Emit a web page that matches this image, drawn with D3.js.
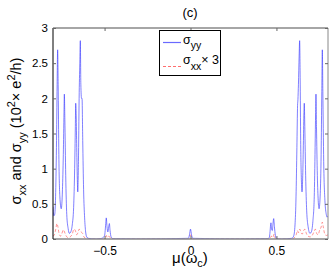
<!DOCTYPE html>
<html>
<head>
<meta charset="utf-8">
<script src="https://cdn.jsdelivr.net/npm/d3@7"></script>
<style>
  body { margin: 0; background: #fff; }
  text { font-family: "Liberation Sans", Arial, sans-serif; fill: #000; }
</style>
</head>
<body>
<svg id="chart"></svg>
<script>
const WIDTH = 332
const HEIGHT = 275

// sigma_yy
const muYY = [
    -0.800, -0.795, -0.790, -0.785, -0.780, -0.776, -0.773, -0.770, -0.766, -0.760,
    -0.752, -0.745, -0.740, -0.736, -0.734, -0.731, -0.726, -0.720, -0.712, -0.705,
    -0.697, -0.688, -0.680, -0.674, -0.670, -0.668, -0.665, -0.662, -0.658, -0.656,
    -0.652, -0.648, -0.644, -0.641, -0.638, -0.634, -0.631, -0.627, -0.622, -0.616,
    -0.610, -0.604, -0.595, -0.550, -0.515, -0.500, -0.493, -0.490, -0.486, -0.481,
    -0.476, -0.472, -0.468, -0.462, -0.450, -0.300, -0.012, -0.006, 0.000, 0.006,
    0.012, 0.300, 0.450, 0.458, 0.462, 0.466, 0.468, 0.472, 0.476, 0.480,
    0.484, 0.488, 0.494, 0.500, 0.520, 0.590, 0.600, 0.608, 0.614, 0.619,
    0.623, 0.625, 0.628, 0.632, 0.635, 0.638, 0.641, 0.645, 0.649, 0.653,
    0.657, 0.660, 0.662, 0.665, 0.670, 0.676, 0.684, 0.695, 0.703, 0.712,
    0.720, 0.725, 0.728, 0.730, 0.733, 0.738, 0.743, 0.748, 0.755, 0.760,
    0.764, 0.767, 0.770, 0.775, 0.782, 0.790, 0.795, 0.800
]
const sigmaYY = [
    0.46, 0.33, 0.35, 0.60, 1.30, 2.20, 2.69, 2.20, 1.20, 0.60,
    0.43, 0.70, 1.20, 1.80, 2.06, 1.70, 0.90, 0.35, 0.15, 0.08,
    0.10, 0.20, 0.45, 1.00, 1.60, 1.93, 1.75, 1.30, 0.80, 0.67,
    1.10, 2.00, 2.50, 2.82, 2.20, 2.00, 2.00, 1.40, 0.70, 0.30,
    0.10, 0.03, 0.01, 0.00, 0.01, 0.05, 0.22, 0.30, 0.18, 0.10,
    0.17, 0.22, 0.12, 0.03, 0.005, 0.00, 0.01, 0.06, 0.14, 0.06,
    0.01, 0.00, 0.005, 0.02, 0.08, 0.20, 0.23, 0.14, 0.12, 0.22,
    0.29, 0.18, 0.05, 0.01, 0.00, 0.01, 0.04, 0.20, 0.60, 1.30,
    1.90, 1.98, 2.20, 2.60, 2.82, 2.30, 1.40, 0.85, 0.67, 0.90,
    1.40, 1.80, 1.93, 1.60, 0.90, 0.40, 0.18, 0.08, 0.10, 0.25,
    0.60, 1.30, 1.80, 2.06, 1.60, 0.90, 0.55, 0.43, 0.65, 1.20,
    2.10, 2.69, 2.10, 1.10, 0.55, 0.35, 0.31, 0.33
]

// sigma_xx x 3
const muXX = [
    -0.800, -0.792, -0.784, -0.777, -0.772, -0.764, -0.756, -0.748, -0.740, -0.733,
    -0.725, -0.712, -0.700, -0.688, -0.678, -0.670, -0.662, -0.655, -0.648, -0.642,
    -0.636, -0.628, -0.620, -0.610, -0.590, -0.500, -0.490, -0.485, -0.475, -0.460,
    -0.010, 0.000, 0.010, 0.460, 0.470, 0.480, 0.486, 0.495, 0.590, 0.605,
    0.615, 0.622, 0.628, 0.636, 0.642, 0.650, 0.658, 0.666, 0.674, 0.684,
    0.696, 0.708, 0.718, 0.726, 0.734, 0.742, 0.752, 0.760, 0.767, 0.772,
    0.780, 0.790, 0.800
]
const sigmaXX3 = [
    0.04, 0.06, 0.14, 0.22, 0.18, 0.07, 0.04, 0.08, 0.13, 0.10,
    0.05, 0.02, 0.03, 0.07, 0.14, 0.12, 0.06, 0.09, 0.14, 0.12,
    0.10, 0.08, 0.03, 0.01, 0.00, 0.00, 0.05, 0.02, 0.04, 0.00,
    0.00, 0.06, 0.00, 0.00, 0.04, 0.02, 0.07, 0.00, 0.00, 0.02,
    0.06, 0.12, 0.09, 0.14, 0.10, 0.07, 0.12, 0.14, 0.08, 0.04,
    0.03, 0.05, 0.10, 0.14, 0.08, 0.06, 0.13, 0.17, 0.24, 0.18,
    0.08, 0.05, 0.06
]

const xTicks = [-0.5, 0, 0.5]
const yTicks = [0, 0.5, 1, 1.5, 2, 2.5, 3]

const svg = d3.select('#chart')
    .attr('width', WIDTH)
    .attr('height', HEIGHT)

const x = d3.scaleLinear().domain([-0.8, 0.8]).range([53, 328])
const y = d3.scaleLinear().domain([0, 3]).range([239, 28])

svg.append('clipPath')
    .attr('id', 'clip')
    .append('rect')
    .attr('x', 53).attr('y', 28)
    .attr('width', 275).attr('height', 211)

const line = d3.line()
    .x(d => x(d[0]))
    .y(d => y(d[1]))
    .curve(d3.curveMonotoneX)

const plot = svg.append('g').attr('clip-path', 'url(#clip)')

plot.append('path')
    .datum(muXX.map((m, i) => [m, sigmaXX3[i]]))
    .attr('d', line)
    .attr('fill', 'none')
    .attr('stroke', '#ff3030')
    .attr('stroke-width', 0.6)
    .attr('stroke-opacity', 0.85)
    .attr('stroke-dasharray', '3,2')

plot.append('path')
    .datum(muYY.map((m, i) => [m, sigmaYY[i]]))
    .attr('d', line)
    .attr('fill', 'none')
    .attr('stroke', '#3a3aff')
    .attr('stroke-width', 0.65)

// axes, matlab style: ticks inside on all four sides
const frame = svg.append('g')
frame.append('line').attr('x1', 53).attr('x2', 328).attr('y1', 28).attr('y2', 28)
    .attr('stroke', '#888').attr('stroke-width', 1.5)
frame.append('line').attr('x1', 53).attr('x2', 328).attr('y1', 239).attr('y2', 239)
    .attr('stroke', '#888').attr('stroke-width', 1.5)
frame.append('line').attr('x1', 328).attr('x2', 328).attr('y1', 28).attr('y2', 239)
    .attr('stroke', '#888').attr('stroke-width', 1)
frame.append('line').attr('x1', 53).attr('x2', 53).attr('y1', 28).attr('y2', 239)
    .attr('stroke', '#000').attr('stroke-width', 1)

const xAxis = svg.append('g')
    .attr('transform', 'translate(0,239)')
    .call(d3.axisBottom(x).tickValues(xTicks).tickSize(-3).tickPadding(7)
        .tickFormat(d => d === 0 ? '0' : d3.format('.1f')(d).replace('-', '\u2212')))
xAxis.select('.domain').remove()
xAxis.selectAll('.tick line').attr('stroke', '#666')
xAxis.selectAll('text').attr('font-size', 12).attr('font-family', '"Liberation Sans", Arial, sans-serif')

const xTop = svg.append('g')
    .attr('transform', 'translate(0,28)')
    .call(d3.axisTop(x).tickValues(xTicks).tickSize(-3).tickFormat(''))
xTop.select('.domain').remove()
xTop.selectAll('.tick line').attr('stroke', '#666')

const yAxis = svg.append('g')
    .attr('transform', 'translate(53,0)')
    .call(d3.axisLeft(y).tickValues(yTicks).tickSize(-3).tickPadding(5)
        .tickFormat(d => String(d)))
yAxis.select('.domain').remove()
yAxis.selectAll('.tick line').attr('stroke', '#666')
yAxis.selectAll('text').attr('font-size', 11.5).attr('font-family', '"Liberation Sans", Arial, sans-serif')

const yRight = svg.append('g')
    .attr('transform', 'translate(328,0)')
    .call(d3.axisRight(y).tickValues(yTicks).tickSize(-3).tickFormat(''))
yRight.select('.domain').remove()
yRight.selectAll('.tick line').attr('stroke', '#666')

// title
svg.append('text')
    .attr('x', 190).attr('y', 17)
    .attr('text-anchor', 'middle')
    .attr('font-size', 13)
    .text('(c)')

// x label
const xl = svg.append('text')
    .attr('x', 172).attr('y', 263)
    .attr('font-size', 15)
xl.append('tspan').text('\u03bc(\u03c9')
xl.append('tspan').attr('dy', 4).attr('font-size', 11).text('c')
xl.append('tspan').attr('dy', -4).text(')')

// y label
const yl = svg.append('text')
    .attr('transform', 'translate(21,131) rotate(-90)')
    .attr('text-anchor', 'middle')
    .attr('font-size', 14.5)
yl.append('tspan').text('\u03c3')
yl.append('tspan').attr('dy', 5).attr('font-size', 11).text('xx')
yl.append('tspan').attr('dy', -5).text(' and \u03c3')
yl.append('tspan').attr('dy', 5).attr('font-size', 11).text('yy')
yl.append('tspan').attr('dy', -5).text(' (10')
yl.append('tspan').attr('dy', -6).attr('font-size', 11).text('2')
yl.append('tspan').attr('dy', 6).text('\u00d7 e')
yl.append('tspan').attr('dy', -6).attr('font-size', 11).text('2')
yl.append('tspan').attr('dy', 6).text('/h)')

// legend
const legend = svg.append('g')
legend.append('rect')
    .attr('x', 159.5).attr('y', 30.5)
    .attr('width', 61).attr('height', 45)
    .attr('fill', '#fff')
    .attr('stroke', '#000')
    .attr('stroke-width', 1)
legend.append('line')
    .attr('x1', 163).attr('x2', 181).attr('y1', 42.5).attr('y2', 42.5)
    .attr('stroke', '#6a6aff').attr('stroke-width', 1.2)
legend.append('line')
    .attr('x1', 163).attr('x2', 181).attr('y1', 66.5).attr('y2', 66.5)
    .attr('stroke', '#ff3030').attr('stroke-width', 0.7)
    .attr('stroke-dasharray', '3,2')
const l1 = legend.append('text').attr('x', 183).attr('y', 43.5).attr('font-size', 12.5)
l1.append('tspan').text('\u03c3')
l1.append('tspan').attr('dy', 5).attr('font-size', 10.5).text('yy')
const l2 = legend.append('text').attr('x', 183).attr('y', 63.5).attr('font-size', 12.5)
l2.append('tspan').text('\u03c3')
l2.append('tspan').attr('dy', 6).attr('font-size', 10.5).text('xx')
l2.append('tspan').attr('dy', -6).text('\u00d7 3')
</script>
</body>
</html>
